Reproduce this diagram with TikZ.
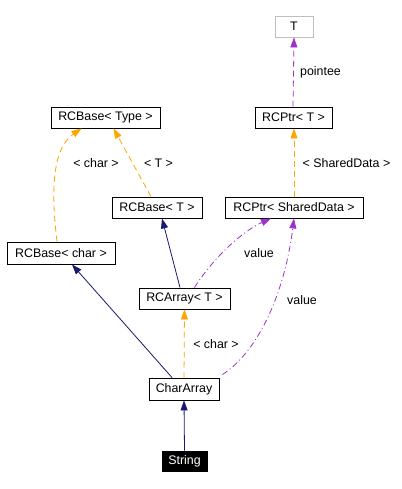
\documentclass[tikz,border=0pt]{standalone}
\usepackage{fontspec}
\setmainfont{Liberation Sans}
\usetikzlibrary{arrows.meta}
\definecolor{dxorange}{HTML}{FFA500}
\definecolor{dxpurple}{HTML}{9A32CD}
\definecolor{dxnavy}{HTML}{191970}
\definecolor{dxgray}{HTML}{BFBFBF}
\begin{document}
\begin{tikzpicture}[x=1pt,y=-1pt,
  font=\fontsize{12.4}{14}\selectfont,
  cls/.style={draw=black,line width=0.9pt,fill=white,inner sep=0pt,anchor=center},
  tip/.style={-{Triangle[length=10pt,width=7pt]}},
  inh/.style={tip,draw=dxnavy,line width=0.8pt},
  tmpl/.style={tip,draw=dxorange,line width=0.8pt,dash pattern=on 6pt off 4pt},
  usage/.style={tip,draw=dxpurple,line width=0.8pt,dash pattern=on 6pt off 4pt},
  usagedd/.style={tip,draw=dxpurple,line width=0.8pt,dash pattern=on 6pt off 3pt on 1pt off 3pt},
  lbl/.style={inner sep=0pt,anchor=center}]
\useasboundingbox (0,0) rectangle (401,489);
\fill[white] (0,0) rectangle (401,489);
\node[cls,draw=dxgray,minimum width=38pt,minimum height=21pt] (T) at (294,26.5) {T};
\node[cls,minimum width=109pt,minimum height=21pt] (RBType) at (105.5,117.5) {RCBase< Type >};
\node[cls,minimum width=77pt,minimum height=21pt] (RPT) at (293.5,117.5) {RCPtr< T >};
\node[cls,minimum width=90pt,minimum height=21pt] (RBT) at (157,207.5) {RCBase< T >};
\node[cls,minimum width=138pt,minimum height=21pt] (RPSD) at (294,207.5) {RCPtr< SharedData >};
\node[cls,minimum width=108pt,minimum height=22pt] (RBChar) at (61,253) {RCBase< char >};
\node[cls,minimum width=91pt,minimum height=21pt] (RAT) at (184.5,298.5) {RCArray< T >};
\node[cls,minimum width=70pt,minimum height=22pt] (CA) at (184,389) {CharArray};
\node[cls,fill=black,text=white,minimum width=45pt,minimum height=20pt] (Str) at (184.5,461) {String};

\draw[usage] ([xshift=-0.5pt]RPT.north) -- (T.south);
\node[lbl] (l1) at (320.5,72) {pointee};
\draw[tmpl] (RPSD.north) -- ([xshift=0.5pt]RPT.south);
\node[lbl] (l2) at (346.5,163) {< SharedData >};
\draw[tmpl] ([xshift=-4pt]RBChar.north) .. controls (52,200) and (50,150) .. ([xshift=-24pt]RBType.south);
\node[lbl] (l3) at (96,163) {< char >};
\draw[tmpl] ([xshift=-6pt]RBT.north) -- ([xshift=8pt]RBType.south);
\node[lbl] (l4) at (158.5,163) {< T >};
\draw[inh] ([xshift=-4.5pt]RAT.north) -- ([xshift=5pt]RBT.south);
\draw[usagedd] ([xshift=10pt]RAT.north) .. controls (215,255) and (245,230) .. ([xshift=-23pt]RPSD.south);
\node[lbl] (l5) at (259,253) {value};
\draw[inh] ([xshift=-12pt]CA.north) -- ([xshift=11pt]RBChar.south);
\draw[tmpl] (CA.north) -- (RAT.south);
\node[lbl] (l6) at (216,344) {< char >};
\draw[usagedd] ([xshift=3pt,yshift=3pt]CA.north east) .. controls (260,350) and (285,290) .. (RPSD.south);
\node[lbl] (l7) at (302,300) {value};
\draw[inh] (Str.north) -- (CA.south);
\end{tikzpicture}
\end{document}
